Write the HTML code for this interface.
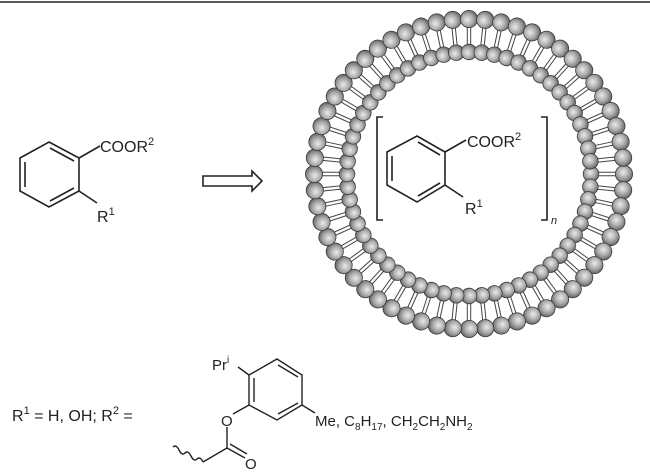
<!DOCTYPE html>
<html><head><meta charset="utf-8"><style>
html,body{margin:0;padding:0;background:#fff}
svg{display:block}
text{font-family:"Liberation Sans",sans-serif;fill:#222}
</style></head><body>
<svg width="650" height="474" viewBox="0 0 650 474" xmlns="http://www.w3.org/2000/svg" xmlns:xlink="http://www.w3.org/1999/xlink">
<defs>
<radialGradient id="g" cx="0.45" cy="0.4" r="0.65">
<stop offset="0" stop-color="#ebebeb"/><stop offset="0.5" stop-color="#adadad"/><stop offset="1" stop-color="#5a5a5a"/>
</radialGradient>
<g id="sp">
<line x1="115" y1="-1.7" x2="148" y2="-1.7" stroke="#444" stroke-width="1"/>
<line x1="115" y1="1.7" x2="148" y2="1.7" stroke="#444" stroke-width="1"/>
<circle cx="122" cy="0" r="7.8" fill="url(#g)" stroke="#3a3a3a" stroke-width="0.8"/>
<circle cx="155" cy="0" r="8.6" fill="url(#g)" stroke="#3a3a3a" stroke-width="0.8"/>
</g>
<g id="b6">
<use xlink:href="#sp" href="#sp"/>
<use xlink:href="#sp" href="#sp" transform="rotate(6)"/>
<use xlink:href="#sp" href="#sp" transform="rotate(12)"/>
<use xlink:href="#sp" href="#sp" transform="rotate(18)"/>
<use xlink:href="#sp" href="#sp" transform="rotate(24)"/>
<use xlink:href="#sp" href="#sp" transform="rotate(30)"/>
</g>
</defs>
<line x1="0" y1="2" x2="650" y2="2" stroke="#222" stroke-width="1.5"/>
<g stroke="#222" stroke-width="1.6" fill="none">
<polygon points="49,142 79,158 79,191 49,207 20,191 20,158"/>
<line x1="25" y1="162" x2="25" y2="187"/>
<line x1="50" y1="148" x2="74" y2="161"/>
<line x1="50" y1="201" x2="74" y2="188"/>
<line x1="79" y1="158" x2="100" y2="146"/>
<line x1="79" y1="191" x2="97" y2="203"/>
<polygon points="203,176 252,176 252,171 262,181 252,191 252,186 203,186"/>
</g>
<text x="100" y="152" font-size="16">COOR<tspan font-size="11" dy="-7">2</tspan></text>
<text x="97" y="222" font-size="16">R<tspan font-size="11" dy="-7">1</tspan></text>

<g transform="translate(469,174)">
<use xlink:href="#b6" href="#b6"/>
<use xlink:href="#b6" href="#b6" transform="rotate(36)"/>
<use xlink:href="#b6" href="#b6" transform="rotate(72)"/>
<use xlink:href="#b6" href="#b6" transform="rotate(108)"/>
<use xlink:href="#b6" href="#b6" transform="rotate(144)"/>
<use xlink:href="#b6" href="#b6" transform="rotate(180)"/>
<use xlink:href="#b6" href="#b6" transform="rotate(216)"/>
<use xlink:href="#b6" href="#b6" transform="rotate(252)"/>
<use xlink:href="#b6" href="#b6" transform="rotate(288)"/>
<use xlink:href="#b6" href="#b6" transform="rotate(324)"/>
</g>

<g stroke="#222" stroke-width="1.6" fill="none">
<polygon points="417,136 445,152 445,185 417,202 387,185 387,152"/>
<line x1="392" y1="156" x2="392" y2="181"/>
<line x1="418" y1="142" x2="440" y2="155"/>
<line x1="418" y1="196" x2="440" y2="183"/>
<line x1="445" y1="152" x2="466" y2="140"/>
<line x1="445" y1="185" x2="463" y2="197"/>
<polyline points="383,117 377,117 377,220 383,220"/>
<polyline points="541,117 547,117 547,220 541,220"/>
</g>
<text x="467" y="147" font-size="16">COOR<tspan font-size="11" dy="-7">2</tspan></text>
<text x="465" y="214" font-size="16">R<tspan font-size="11" dy="-7">1</tspan></text>
<text x="551" y="224" font-size="11" font-style="italic">n</text>

<text x="12" y="421" font-size="16">R<tspan font-size="11" dy="-7">1</tspan><tspan dy="7"> = H, OH; R</tspan><tspan font-size="11" dy="-7">2</tspan><tspan dy="7"> =</tspan></text>
<g stroke="#222" stroke-width="1.4" fill="none">
<polygon points="249,375 277,359 302,375 302,405 277,420 249,405"/>
<line x1="254" y1="378" x2="254" y2="402"/>
<line x1="278" y1="365" x2="298" y2="377"/>
<line x1="278" y1="414" x2="298" y2="403"/>
<line x1="249" y1="375" x2="238" y2="367"/>
<line x1="302" y1="405" x2="315" y2="413"/>
<line x1="249" y1="405" x2="233" y2="414"/>
<line x1="227" y1="427" x2="227" y2="448"/>
<line x1="227" y1="448" x2="203" y2="462"/>
<line x1="227" y1="448" x2="245" y2="458"/>
<line x1="230" y1="444" x2="247" y2="454"/>
<path d="M203,462 q-3,-6 -6,-3 t-6,-3 t-6,-3 t-6,-3 t-6,-3"/>
</g>
<text x="212" y="370" font-size="15">Pr<tspan font-size="10" dy="-7">i</tspan></text>
<text x="221" y="426" font-size="15">O</text>
<text x="245" y="469" font-size="15">O</text>
<text x="315" y="426" font-size="15">Me, C<tspan font-size="10" dy="4">8</tspan><tspan dy="-4">H</tspan><tspan font-size="10" dy="4">17</tspan><tspan dy="-4">, CH</tspan><tspan font-size="10" dy="4">2</tspan><tspan dy="-4">CH</tspan><tspan font-size="10" dy="4">2</tspan><tspan dy="-4">NH</tspan><tspan font-size="10" dy="4">2</tspan></text>
</svg>
</body></html>
